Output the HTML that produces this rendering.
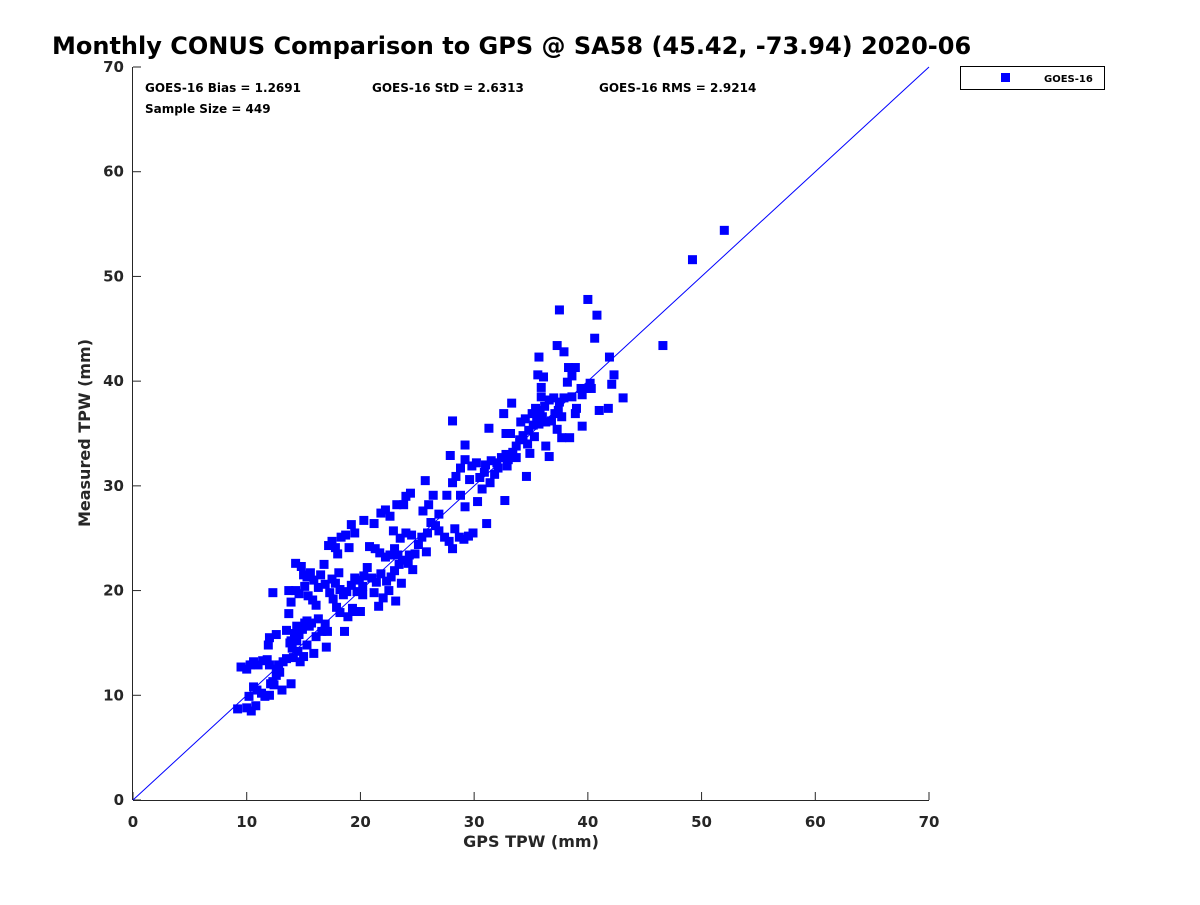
<!DOCTYPE html>
<html><head><meta charset="utf-8"><style>
body{margin:0;background:#fff;font-family:"Liberation Sans","DejaVu Sans",sans-serif}
svg text{font-family:"DejaVu Sans","Liberation Sans",sans-serif;font-weight:bold}
</style></head><body>
<svg id="chart" width="1200" height="900" viewBox="0 0 1200 900" xmlns="http://www.w3.org/2000/svg">
<rect width="1200" height="900" fill="#fff"/>
<text x="52" y="54" font-size="24" fill="#000">Monthly CONUS Comparison to GPS @ SA58 (45.42, -73.94) 2020-06</text>
<g id="axes"></g>
<g id="marks"></g>
<text x="145" y="92" font-size="12" fill="#000">GOES-16 Bias = 1.2691</text>
<text x="372" y="92" font-size="12" fill="#000">GOES-16 StD = 2.6313</text>
<text x="599" y="92" font-size="12" fill="#000">GOES-16 RMS = 2.9214</text>
<text x="145" y="113" font-size="12" fill="#000">Sample Size = 449</text>
<g>
<rect x="960.5" y="66.5" width="144" height="23" fill="#fff" stroke="#000" stroke-width="1"/>
<rect x="1001" y="73" width="9" height="9" fill="#0000ff"/>
<text x="1044" y="82" font-size="10" fill="#000">GOES-16</text>
</g>
<text x="531" y="847" font-size="16" text-anchor="middle" fill="#262626">GPS TPW (mm)</text>
<text transform="translate(90,433) rotate(-90)" font-size="16" text-anchor="middle" fill="#262626">Measured TPW (mm)</text>
</svg>
<script>
const xTicks=[0,10,20,30,40,50,60,70];
const yTicks=[0,10,20,30,40,50,60,70];
const gpsX=[52,49.2,46.6,40,37.5,40.8,40.6,41.9,37.9,37.3,35.7,36.1,35.6,42.3,42.1,43.1,41.8,41,40.3,39.5,38.9,38.4,37.7,37.3,36.6,36.3,34.6,32.7,31.3,32.6,33.3,28.1,27.9,29.2,
9.2,10,10.4,10.8,10.6,11.3,11.6,12,12.3,12.1,9.5,10,10.3,10.6,11,11.4,11.8,12,10.2,10.9,12.6,12.9,12.6,12.4,13.1,13.2,12.8,11.9,12.6,12,12.3,
13.5,14,13.9,14.2,14.4,14.6,14.9,15.1,15.3,15.5,14.7,15,14.5,13.9,15.9,15.3,13.5,13.7,13.9,13.7,14.3,14.6,14.3,14.8,15,15.3,15.6,15.9,15.1,15.4,15.8,16.1,16.3,16.5,16.8,16.3,16.6,16.9,17.1,17,16.1,15.7,13.8,14.1,14.4,
17.2,17.5,17.8,18,18.3,18.7,19.2,19.5,19,17.5,17.8,18.2,18.5,18.8,19.2,19.5,17.6,17.9,18.2,18.6,18.9,19.3,19.6,20,20.2,19.7,19.9,20.3,20.6,20.2,18.1,17.3,16.9,
20.3,21.2,21.8,22.2,22.6,23.2,23.8,24.4,24,20.8,21.3,21.7,22.2,22.6,23,23.5,24,24.5,21,21.4,21.8,22.3,22.7,23,23.4,23.7,24.2,24.6,21.2,21.6,22,22.5,23.1,23.6,24.3,24.8,25.1,25.4,22.9,23.3,
25.5,26,25.7,26.4,26.9,26.2,26.6,25.9,25.8,26.9,27.4,27.8,28.1,28.3,28.7,29.1,29.5,29.9,27.6,28.1,28.4,28.8,29.2,29.6,28.8,29.2,29.8,30.2,30.5,30.9,30.3,31.1,30.7,31.4,31.8,32.1,32.4,32.8,32.8,
31,31.5,32,33,33.4,33.7,34,34.3,34.8,35.2,35.5,33.2,34.1,35.1,35.8,36.2,36.6,37,34.7,35.3,35.7,36,36.3,35.4,34.5,35.9,35.9,34.9,33.7,32.9,
37.5,37.9,38.2,38.6,38.9,38.6,39,39.5,39.9,40.2,39.4,37.7,37.1,36.8,37.4,38.3];
const measuredY=[54.4,51.6,43.4,47.8,46.8,46.3,44.1,42.3,42.8,43.4,42.3,40.4,40.6,40.6,39.7,38.4,37.4,37.2,39.3,35.7,36.9,34.6,34.6,35.4,32.8,33.8,30.9,28.6,35.5,36.9,37.9,36.2,32.9,33.9,
8.7,8.8,8.5,9,10.8,10.2,9.9,10,11.3,11.1,12.7,12.5,12.9,13.2,12.9,13.3,13.4,12.9,9.9,10.5,12.5,12.2,11.9,11,10.5,13.2,12.9,14.8,15.8,15.5,19.8,
13.5,14.5,15.2,15.9,15.2,15.8,16.3,16.9,17.1,16.6,13.2,13.7,14.2,11.1,14,14.8,16.2,17.8,18.9,20,20,19.7,22.6,22.3,21.5,21.3,21.7,21,20.4,19.5,19.1,18.6,20.3,21.5,22.5,17.3,16.1,16.8,16.1,14.6,15.6,16.9,15,13.6,16.6,
24.3,24.7,24.1,23.5,25.1,25.3,26.3,25.5,24.1,21.1,20.7,20.1,19.6,19.9,20.5,21.2,19.2,18.4,17.9,16.1,17.5,18.3,18,18,19.6,19.9,21,21.4,22.2,20.4,21.7,19.8,20.6,
26.7,26.4,27.4,27.7,27.1,28.2,28.2,29.3,29,24.2,24,23.6,23.2,23.4,24,25,25.5,25.3,21.2,20.8,21.6,20.9,21.3,21.9,22.5,22.9,22.6,22,19.8,18.5,19.3,20,19,20.7,23.4,23.5,24.4,25.1,25.7,23.4,
27.6,28.2,30.5,29.1,27.3,26.5,26.2,25.5,23.7,25.7,25.1,24.7,24,25.9,25.1,24.9,25.2,25.5,29.1,30.3,30.9,29.1,28,30.6,31.7,32.5,31.9,32.2,30.8,31.3,28.5,26.4,29.7,30.3,31.1,31.7,32.7,33,35,
32,32.4,32.2,32.5,33.2,33.8,34.4,34.8,35.3,35.8,36.4,35,36.1,36.9,37.2,37.6,38.2,38.4,34,34.7,35.9,36.6,36.1,37.4,36.4,38.5,39.4,33.1,32.7,31.9,
38,38.4,39.9,40.5,41.3,38.5,37.4,38.7,39.3,39.8,39.3,36.6,36.9,36.2,37.2,41.3];
const X0=133,X1=929,Y0=800,Y1=67,XMAX=70,YMAX=70;
const sx=v=>X0+v/XMAX*(X1-X0), sy=v=>Y0-v/YMAX*(Y0-Y1);
const NS='http://www.w3.org/2000/svg';
const axes=document.getElementById('axes'), marks=document.getElementById('marks');
function mk(t,a,p){const e=document.createElementNS(NS,t);for(const k in a)e.setAttribute(k,a[k]);p.appendChild(e);return e;}
const xl=mk('line',{x1:X0,y1:Y0+.5,x2:X1,y2:Y0+.5,stroke:'#262626'},axes);


const yl=mk('line',{x1:X0-.5,y1:Y0,x2:X0-.5,y2:Y1,stroke:'#262626'},axes);


xTicks.forEach(t=>{const x=sx(t);
 mk('line',{x1:x,y1:Y0,x2:x,y2:Y0-8,stroke:'#262626'},axes);
 const tx=mk('text',{x:x,y:Y0+27,'font-size':15,'text-anchor':'middle',fill:'#262626'},axes);tx.textContent=t;
 
 
});
yTicks.forEach(t=>{const y=sy(t);
 mk('line',{x1:X0,y1:y,x2:X0+8,y2:y,stroke:'#262626'},axes);
 const tx=mk('text',{x:X0-9,y:y+5,'font-size':15,'text-anchor':'end',fill:'#262626'},axes);tx.textContent=t;
 
 
});
const ref=mk('line',{x1:sx(0),y1:sy(0),x2:sx(70),y2:sy(70),stroke:'#0000ff','stroke-width':1},marks);


for(let i=0;i<gpsX.length;i++){
 const r=mk('rect',{x:sx(gpsX[i])-4.5,y:sy(measuredY[i])-4.5,width:9,height:9,fill:'#0000ff'},marks);
 
 
}
</script>
</body></html>
